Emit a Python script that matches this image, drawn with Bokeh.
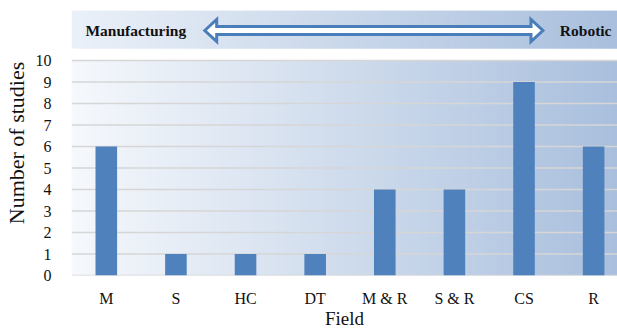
import numpy as np
from bokeh.plotting import figure
from bokeh.models import Range1d, FixedTicker, Label
from bokeh.embed import file_html
from bokeh.resources import INLINE

# ---- data ----
categories = ["M", "S", "HC", "DT", "M & R", "S & R", "CS", "R"]
studies = [6, 1, 1, 1, 4, 4, 9, 6]
y_ticks = list(range(0, 11))

W, H = 617, 331
LEFT, RIGHT, TOP, BOTTOM = 68, 0, 10, 56
px_per_cat = 70.0
px_per_unit = 21.5

frame_w = W - LEFT - RIGHT
frame_h = H - TOP - BOTTOM
x0 = -0.5
x1 = x0 + frame_w / px_per_cat
y1 = frame_h / px_per_unit


def px_x(px):
    return x0 + (px - LEFT) / px_per_cat


def px_y(py):
    return (TOP + frame_h - py) / px_per_unit


p = figure(width=W, height=H, output_backend="svg", toolbar_location=None,
           x_range=Range1d(x0, x1), y_range=Range1d(0, y1),
           min_border_left=LEFT, min_border_right=RIGHT,
           min_border_top=TOP, min_border_bottom=BOTTOM)
p.outline_line_color = None
p.background_fill_color = "white"
p.border_fill_color = "white"
p.xgrid.visible = False
p.ygrid.visible = False


def lerp_colors(c0, c1, n):
    a = np.array([int(c0[i:i + 2], 16) for i in (1, 3, 5)], dtype=float)
    b = np.array([int(c1[i:i + 2], 16) for i in (1, 3, 5)], dtype=float)
    out = []
    for t in np.linspace(0, 1, n):
        c = a + (b - a) * t
        out.append("#%02x%02x%02x" % tuple(int(round(v)) for v in c))
    return out


# plot-area gradient background (overlapping strips to avoid seams)
N = 110
edges = np.linspace(x0, x1, N + 1)
step = edges[1] - edges[0]
p.quad(left=edges[:-1], right=np.minimum(edges[1:] + step, x1), bottom=0, top=10,
       fill_color=lerp_colors("#f5f8fc", "#a9bfdd", N), line_color=None)

# top band gradient
band_bot = px_y(48)
p.quad(left=edges[:-1], right=np.minimum(edges[1:] + step, x1), bottom=band_bot, top=y1,
       fill_color=lerp_colors("#eaf0f8", "#a9bfdd", N), line_color=None)

# gridlines
p.segment(x0=[x0] * len(y_ticks), x1=[x1] * len(y_ticks), y0=y_ticks, y1=y_ticks,
          line_color="#d6d6d6", line_width=1.5)

# bars
xs = list(range(len(categories)))
p.vbar(x=xs, top=studies, width=0.31, fill_color="#4f81bd", line_color=None)

# double arrow in the band
cy = 30
lt, rt = 202, 542
hl, hh, sh = 12, 11, 4
pts_px = [(lt, cy), (lt + hl, cy - hh), (lt + hl, cy - sh), (rt - hl, cy - sh),
          (rt - hl, cy - hh), (rt, cy), (rt - hl, cy + hh), (rt - hl, cy + sh),
          (lt + hl, cy + sh), (lt + hl, cy + hh)]
p.patch([px_x(a) for a, b in pts_px], [px_y(b) for a, b in pts_px],
        fill_color="white", line_color="#4a7ebb", line_width=3, line_join="miter")

font = "Liberation Serif"
p.add_layout(Label(x=px_x(82), y=px_y(30), text="Manufacturing", text_font=font,
                   text_font_style="bold", text_font_size="15.5px", text_baseline="middle",
                   text_color="#111111"))
p.add_layout(Label(x=px_x(559), y=px_y(30), text="Robotic", text_font=font,
                   text_font_style="bold", text_font_size="15.5px", text_baseline="middle",
                   text_color="#111111"))

# axes
p.xaxis.ticker = FixedTicker(ticks=xs)
p.xaxis.major_label_overrides = {i: c for i, c in enumerate(categories)}
p.yaxis.ticker = FixedTicker(ticks=y_ticks)
for ax in (p.xaxis[0], p.yaxis[0]):
    ax.major_tick_line_color = None
    ax.minor_tick_line_color = None
    ax.axis_line_color = None
    ax.major_label_text_font = font
    ax.major_label_text_font_size = "16px"
    ax.major_label_text_color = "#111111"
    ax.axis_label_text_font = font
    ax.axis_label_text_font_style = "normal"
    ax.axis_label_text_color = "#111111"
p.xaxis.axis_label = "Field"
p.yaxis.axis_label = "Number of studies"
p.xaxis.axis_label_text_font_size = "19px"
p.yaxis.axis_label_text_font_size = "22px"
p.xaxis.major_label_standoff = 8
p.xaxis.axis_label_standoff = -2
p.yaxis.major_label_standoff = 14
p.yaxis.axis_label_standoff = 4

open("out.html", "w").write(file_html(p, INLINE))
